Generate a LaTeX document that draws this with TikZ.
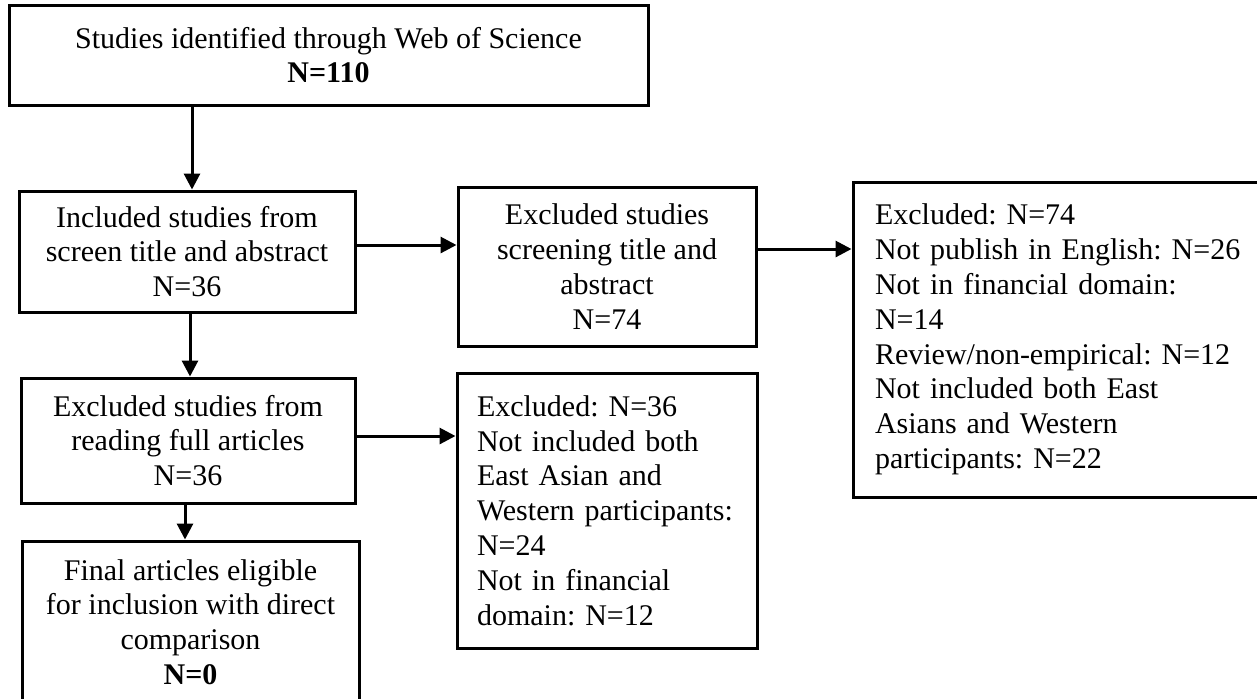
\documentclass[tikz,border=0pt]{standalone}
\usepackage{fontspec}
\setmainfont{Liberation Serif}
\usetikzlibrary{arrows.meta}

\begin{document}
\begin{tikzpicture}[x=0.5pt, y=-0.5pt,
  box/.style={draw=black, line width=1.5pt, fill=white, align=center,
    inner sep=0pt, font=\fontsize{15pt}{17.4pt}\selectfont\frenchspacing},
  listbox/.style={box, align=left},
  arr/.style={line width=1.5pt, -{Triangle[length=8pt,width=8pt]}}]

  % page area
  \useasboundingbox (0,0) rectangle (1257,698);
  \fill[white] (0,0) rectangle (1257,698);

  % main column
  \node[box, minimum width=319.5pt, minimum height=50pt] (b1) at (328.5,55)
    {Studies identified through Web of Science\\\textbf{N=110}};
  \node[box, minimum width=168pt, minimum height=60.5pt] (b2) at (187,251.5)
    {Included studies from\\screen title and abstract\\N=36};
  \node[box, minimum width=167pt, minimum height=62.5pt] (b3) at (188,440.5)
    {Excluded studies from\\reading full articles\\N=36};
  \node[box, minimum width=168.5pt, minimum height=81pt] (b4) at (190.5,622)
    {Final articles eligible\\for inclusion with direct\\comparison\\\textbf{N=0}};

  % exclusions
  \node[box, minimum width=149pt, minimum height=79.5pt] (b5) at (607,266.5)
    {Excluded studies\\screening title and\\abstract\\N=74};
  \node[listbox, inner xsep=11pt, text width=184pt, minimum height=157.5pt] (b6) at (1059,339.5)
    {Excluded: N=74\\Not publish in English: N=26\\Not in financial domain:\\N=14\\Review/non-empirical: N=12\\Not included both East\\Asians and Western\\participants: N=22};
  \node[listbox, inner xsep=10pt, text width=130pt, minimum height=137.5pt] (b7) at (607,510.5)
    {Excluded: N=36\\Not included both\\East Asian and\\Western participants:\\N=24\\Not in financial\\domain: N=12};

  % connectors
  \draw[arr] ([xshift=2.5pt]b2.north |- b1.south) -- ([xshift=2.5pt]b2.north);
  \draw[arr] ([xshift=1.5pt]b2.south) -- ([xshift=1.5pt]b2.south |- b3.north);
  \draw[arr] ([xshift=-1.5pt]b3.south) -- ([xshift=-1.5pt]b3.south |- b4.north);
  \draw[arr] ([yshift=3.25pt]b2.east) -- ([yshift=3.25pt]b2.east -| b5.west);
  \draw[arr] ([yshift=8.75pt]b5.east) -- ([yshift=8.75pt]b5.east -| b6.west);
  \draw[arr] ([yshift=2.25pt]b3.east) -- ([yshift=2.25pt]b3.east -| b7.west);
\end{tikzpicture}
\end{document}
